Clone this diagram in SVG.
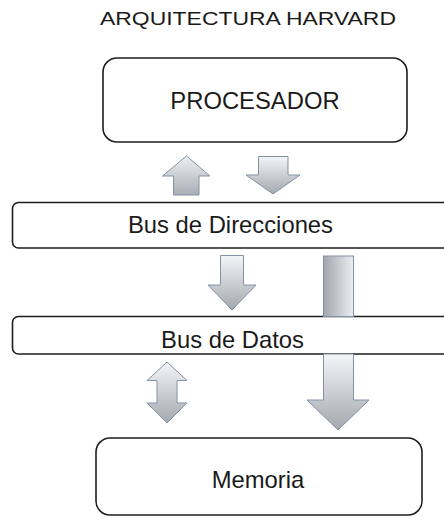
<svg xmlns="http://www.w3.org/2000/svg" width="444" height="518" viewBox="0 0 444 518">
  <defs>
    <linearGradient id="gv" x1="0" y1="0" x2="0" y2="1">
      <stop offset="0" stop-color="#f4f5f7"/>
      <stop offset="1" stop-color="#a3a8b0"/>
    </linearGradient>
    <linearGradient id="gu" x1="0" y1="0" x2="0" y2="1">
      <stop offset="0" stop-color="#eef0f2"/>
      <stop offset="1" stop-color="#a9aeb6"/>
    </linearGradient>
    <linearGradient id="gh" x1="0" y1="0" x2="1" y2="0">
      <stop offset="0" stop-color="#a0a5ad"/>
      <stop offset="1" stop-color="#eceef1"/>
    </linearGradient>
  </defs>
  <style>
    .box { fill: #ffffff; stroke: #1e1e1e; stroke-width: 1.6; }
    .arrow { stroke: #8391a6; stroke-width: 1; stroke-linejoin: miter; }
    .lbl { font-family: "Liberation Sans", Arial, sans-serif; font-size: 23.8px; fill: #1a1a1a; text-anchor: middle; }
    .title { font-family: "Liberation Sans", Arial, sans-serif; font-size: 19px; fill: #1a1a1a; }
  </style>

  <text class="title" x="100" y="25" textLength="296" lengthAdjust="spacingAndGlyphs">ARQUITECTURA HARVARD</text>

  <g id="procesador">
    <rect class="box" x="103" y="58" width="304" height="84" rx="14"/>
    <text class="lbl" x="255" y="109">PROCESADOR</text>
  </g>

  <g id="bus-direcciones">
    <rect class="box" x="12.5" y="202.5" width="460" height="45.5" rx="6"/>
    <text class="lbl" x="230.5" y="233">Bus de Direcciones</text>
  </g>

  <g id="bus-datos">
    <rect class="box" x="12.5" y="316.5" width="460" height="37.5" rx="6"/>
    <text class="lbl" x="232.5" y="348">Bus de Datos</text>
  </g>

  <g id="memoria">
    <rect class="box" x="96" y="438" width="326" height="77" rx="14"/>
    <text class="lbl" x="258" y="488">Memoria</text>
  </g>

  <g id="connectors">
    <path class="arrow" fill="url(#gu)" d="M186.5,156 L210,176 L199,176 L199,195 L173.5,195 L173.5,176 L162.5,176 Z"/>
    <path class="arrow" fill="url(#gv)" d="M258.5,156.5 L288,156.5 L288,175 L300,175 L273,194 L246,175 L258.5,175 Z"/>
    <path class="arrow" fill="url(#gv)" d="M220.5,255.5 L243.5,255.5 L243.5,285 L256,285 L232,310 L208,285 L220.5,285 Z"/>
    <rect class="arrow" fill="url(#gh)" x="323.5" y="256" width="30" height="60.5"/>
    <path class="arrow" fill="url(#gv)" d="M167,362 L187,380.5 L177,380.5 L177,403 L187,403 L167,423 L147,403 L157,403 L157,380.5 L147,380.5 Z"/>
    <path class="arrow" fill="url(#gv)" d="M323.5,354 L353.5,354 L353.5,400 L369,400 L338,430 L307,400 L323.5,400 Z"/>
  </g>
</svg>
